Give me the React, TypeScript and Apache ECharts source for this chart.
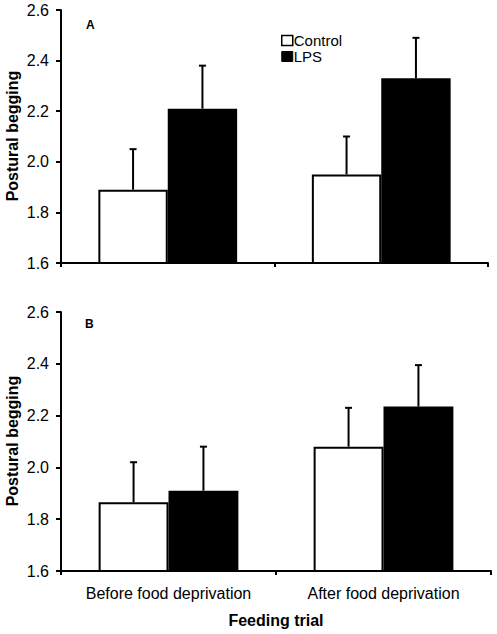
import React, { useEffect, useRef } from "react";
import * as echarts from "echarts";

const categories = ["Before food deprivation", "After food deprivation"];
const seriesNames = ["Control", "LPS"];
const panelLabels = ["A", "B"];
const yAxisTitle = "Postural begging";
const xAxisTitle = "Feeding trial";

// Panel A
const aControlMean = [1.89, 1.95];
const aControlErr = [0.16, 0.15];
const aLpsMean = [2.21, 2.33];
const aLpsErr = [0.17, 0.16];

// Panel B
const bControlMean = [1.865, 2.08];
const bControlErr = [0.155, 0.15];
const bLpsMean = [1.91, 2.235];
const bLpsErr = [0.17, 0.16];

const yMin = 1.6;
const yMax = 2.6;
const yStep = 0.2;

const FONT = "Liberation Sans, Arial, sans-serif";
const BAR_FRAC = 0.325;

function errSeries(mean: number[], err: number[], idx: number, side: number) {
  return {
    type: "custom",
    xAxisIndex: idx,
    yAxisIndex: idx,
    z: 5,
    encode: { x: 0, y: 1 },
    data: mean.map((m, i) => [i, m, err[i]]),
    renderItem: (_params: any, api: any) => {
      const cat = api.value(0);
      const m = api.value(1);
      const e = api.value(2);
      const base = api.coord([cat, m]);
      const top = api.coord([cat, m + e]);
      const band = api.size([1, 0])[0];
      const x = base[0] + (side * band * BAR_FRAC) / 2;
      const st = { stroke: "#000", lineWidth: 2 };
      return {
        type: "group",
        children: [
          { type: "line", shape: { x1: x, y1: base[1], x2: x, y2: top[1] }, style: st },
          { type: "line", shape: { x1: x - 3.5, y1: top[1], x2: x + 3.5, y2: top[1] }, style: st },
        ],
      };
    },
  };
}

function barSeries(name: string, data: number[], idx: number, fill: string) {
  return {
    name,
    type: "bar",
    xAxisIndex: idx,
    yAxisIndex: idx,
    barWidth: `${BAR_FRAC * 100}%`,
    barGap: "0%",
    data,
    itemStyle: { color: fill, borderColor: "#000", borderWidth: 2 },
  };
}

export default function App() {
  const ref = useRef<HTMLDivElement>(null);
  useEffect(() => {
    if (!ref.current) return;
    const chart = echarts.init(ref.current, undefined, { renderer: "svg" });
    const yAxisBase = (gi: number) => ({
      type: "value",
      gridIndex: gi,
      min: yMin,
      max: yMax,
      interval: yStep,
      axisLine: { show: true, lineStyle: { color: "#000", width: 2 } },
      axisTick: { show: true, length: 5, lineStyle: { color: "#000", width: 2 } },
      axisLabel: {
        margin: 12,
        fontFamily: FONT,
        fontSize: 16,
        color: "#000",
        formatter: (v: number) => v.toFixed(1),
      },
      splitLine: { show: false },
    });
    const xAxisBase = (gi: number, showLabels: boolean) => ({
      type: "category",
      gridIndex: gi,
      data: categories,
      axisLine: { show: true, lineStyle: { color: "#000", width: 2 } },
      axisTick: { show: true, length: 4, interval: 0, lineStyle: { color: "#000", width: 2 } },
      axisLabel: {
        show: showLabels,
        interval: 0,
        margin: 14,
        fontFamily: FONT,
        fontSize: 16,
        color: "#000",
      },
      name: showLabels ? xAxisTitle : "",
      nameLocation: "middle",
      nameGap: 41,
      nameTextStyle: { fontFamily: FONT, fontWeight: "bold", fontSize: 16, color: "#000" },
    });
    const yTitle = (cy: number) => ({
      type: "text",
      x: 12,
      y: cy,
      rotation: Math.PI / 2,
      style: {
        text: yAxisTitle,
        font: `bold 16px ${FONT}`,
        fill: "#000",
        align: "center",
        verticalAlign: "middle",
      },
    });
    chart.setOption({
      animation: false,
      backgroundColor: "#fff",
      textStyle: { fontFamily: FONT },
      grid: [
        { left: 61, top: 10, width: 427, height: 253, containLabel: false, outerBoundsMode: "none" },
        { left: 61, top: 312, width: 430, height: 259, containLabel: false, outerBoundsMode: "none" },
      ],
      xAxis: [xAxisBase(0, false), xAxisBase(1, true)],
      yAxis: [yAxisBase(0), yAxisBase(1)],
      legend: {
        orient: "vertical",
        left: 276,
        top: 28,
        itemWidth: 11,
        itemHeight: 10,
        itemGap: 1,
        textStyle: { fontFamily: FONT, fontSize: 15, color: "#000", padding: [0, 0, 0, -4] },
        data: [
          { name: seriesNames[0], icon: "rect", itemStyle: { color: "#fff", borderColor: "#000", borderWidth: 1.5 } },
          { name: seriesNames[1], icon: "rect", itemStyle: { color: "#000", borderColor: "#000", borderWidth: 1 } },
        ],
      },
      graphic: [
        yTitle(136),
        yTitle(441),
        {
          type: "text",
          left: 86,
          top: 19,
          style: { text: panelLabels[0], font: `bold 12px ${FONT}`, fill: "#000" },
        },
        {
          type: "text",
          left: 85,
          top: 318,
          style: { text: panelLabels[1], font: `bold 12px ${FONT}`, fill: "#000" },
        },
      ],
      series: [
        barSeries(seriesNames[0], aControlMean, 0, "#fff"),
        barSeries(seriesNames[1], aLpsMean, 0, "#000"),
        barSeries(seriesNames[0], bControlMean, 1, "#fff"),
        barSeries(seriesNames[1], bLpsMean, 1, "#000"),
        errSeries(aControlMean, aControlErr, 0, -1),
        errSeries(aLpsMean, aLpsErr, 0, 1),
        errSeries(bControlMean, bControlErr, 1, -1),
        errSeries(bLpsMean, bLpsErr, 1, 1),
      ],
    });
    return () => chart.dispose();
  }, []);
  return (
    <div
      ref={ref}
      style={{ position: "fixed", left: 0, top: 0, width: 497, height: 634, background: "#fff" }}
    />
  );
}
